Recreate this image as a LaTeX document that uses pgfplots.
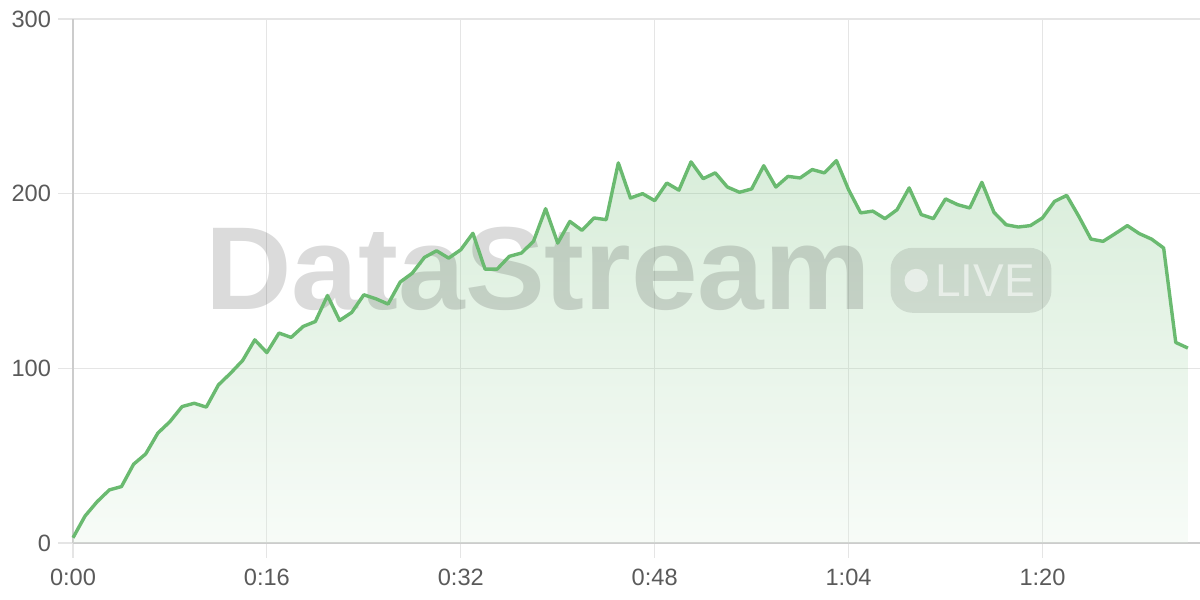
\documentclass[border=0pt]{standalone}
\usepackage{fontspec}
\setmainfont{Liberation Sans}
\usepackage{pgfplots}
\usepackage{pgfplotstable}
\pgfplotsset{compat=1.18}

\definecolor{linegreen}{RGB}{106,186,112}
\definecolor{gridgray}{RGB}{229,229,229}
\definecolor{axisgray}{RGB}{204,204,204}
\definecolor{labelgray}{RGB}{90,90,90}

% seconds, value
\pgfplotstableread{
t v
0 3
1 15.5
2 23.7
3 30.4
4 32.3
5 45.1
6 51
7 62.9
8 69.5
9 78.1
10 80
11 77.8
12 90.5
13 97.2
14 104.5
15 116.3
16 109
17 120.2
18 117.7
19 124
20 126.8
21 141.7
22 127.4
23 132
24 142.1
25 139.8
26 136.8
27 149.4
28 154.5
29 163.5
30 167.3
31 163.1
32 167.9
33 177.3
34 156.8
35 156.8
36 164.1
37 166
38 172.7
39 191.4
40 171.7
41 184.1
42 179
43 186.1
44 185.1
45 217.6
46 197.5
47 200
48 196
49 206.1
50 202
51 218.2
52 208.6
53 211.9
54 203.8
55 200.8
56 202.7
57 216
58 203.8
59 209.9
60 209
61 213.8
62 211.9
63 218.9
64 202.3
65 189
66 190
67 185.7
68 190.8
69 203.3
70 188
71 185.7
72 197
73 193.7
74 191.8
75 206.5
76 189.3
77 182.2
78 180.9
79 181.7
80 186.1
81 195.6
82 199
83 187
84 174
85 172.7
86 177.1
87 181.7
88 177.1
89 174
90 168.9
91 114.8
92 111.6
}\stream

\begin{document}
\begin{tikzpicture}
\useasboundingbox (0,0) rectangle (600pt,300pt);
\begin{axis}[
    at={(36.5pt,28.5pt)}, anchor=south west,
    scale only axis,
    width=563.5pt, height=262pt,
    xmin=0, xmax=93,
    ymin=0, ymax=300,
    axis lines=left,
    axis line style={draw=axisgray, line width=0.7pt, -},
    xtick={0,16,32,48,64,80},
    xticklabels={0:00,0:16,0:32,0:48,1:04,1:20},
    ytick={0,100,200,300},
    grid=major,
    major grid style={draw=gridgray, line width=0.6pt},
    tick align=outside,
    major tick length=7.5pt,
    tick style={draw=gridgray, line width=0.6pt},
    ticklabel style={font=\fontsize{11.8}{14}\selectfont, text=labelgray},
    xticklabel style={yshift=-2pt},
    /pgf/number format/assume math mode=true,
    clip=false,
]
% shaded area under the line
\addplot[draw=none, top color=linegreen, bottom color=linegreen!20!white,
         fill opacity=0.26] table[x=t, y=v] {\stream} \closedcycle;

% watermark
\node[anchor=base west, inner sep=0pt, text=black, opacity=0.14,
      font=\bfseries\fontsize{59}{59}\selectfont] at (axis cs:10.9,133.5)
      {\scalebox{1.015}[1]{DataStream}};
\fill[black, fill opacity=0.1, rounded corners=11pt]
    (axis cs:67.46,131.8) rectangle (axis cs:80.74,169);
\fill[white, fill opacity=0.55] (axis cs:69.58,150.3) circle[radius=5.85pt];
\node[anchor=base west, inner sep=0pt, text=white, opacity=0.55,
      font=\fontsize{23}{23}\selectfont] at (axis cs:71.1,141.1) {LIVE};

\addplot[draw=linegreen, line width=1.7pt, line join=round, mark=none]
    table[x=t, y=v] {\stream};
\end{axis}
\end{tikzpicture}
\end{document}
